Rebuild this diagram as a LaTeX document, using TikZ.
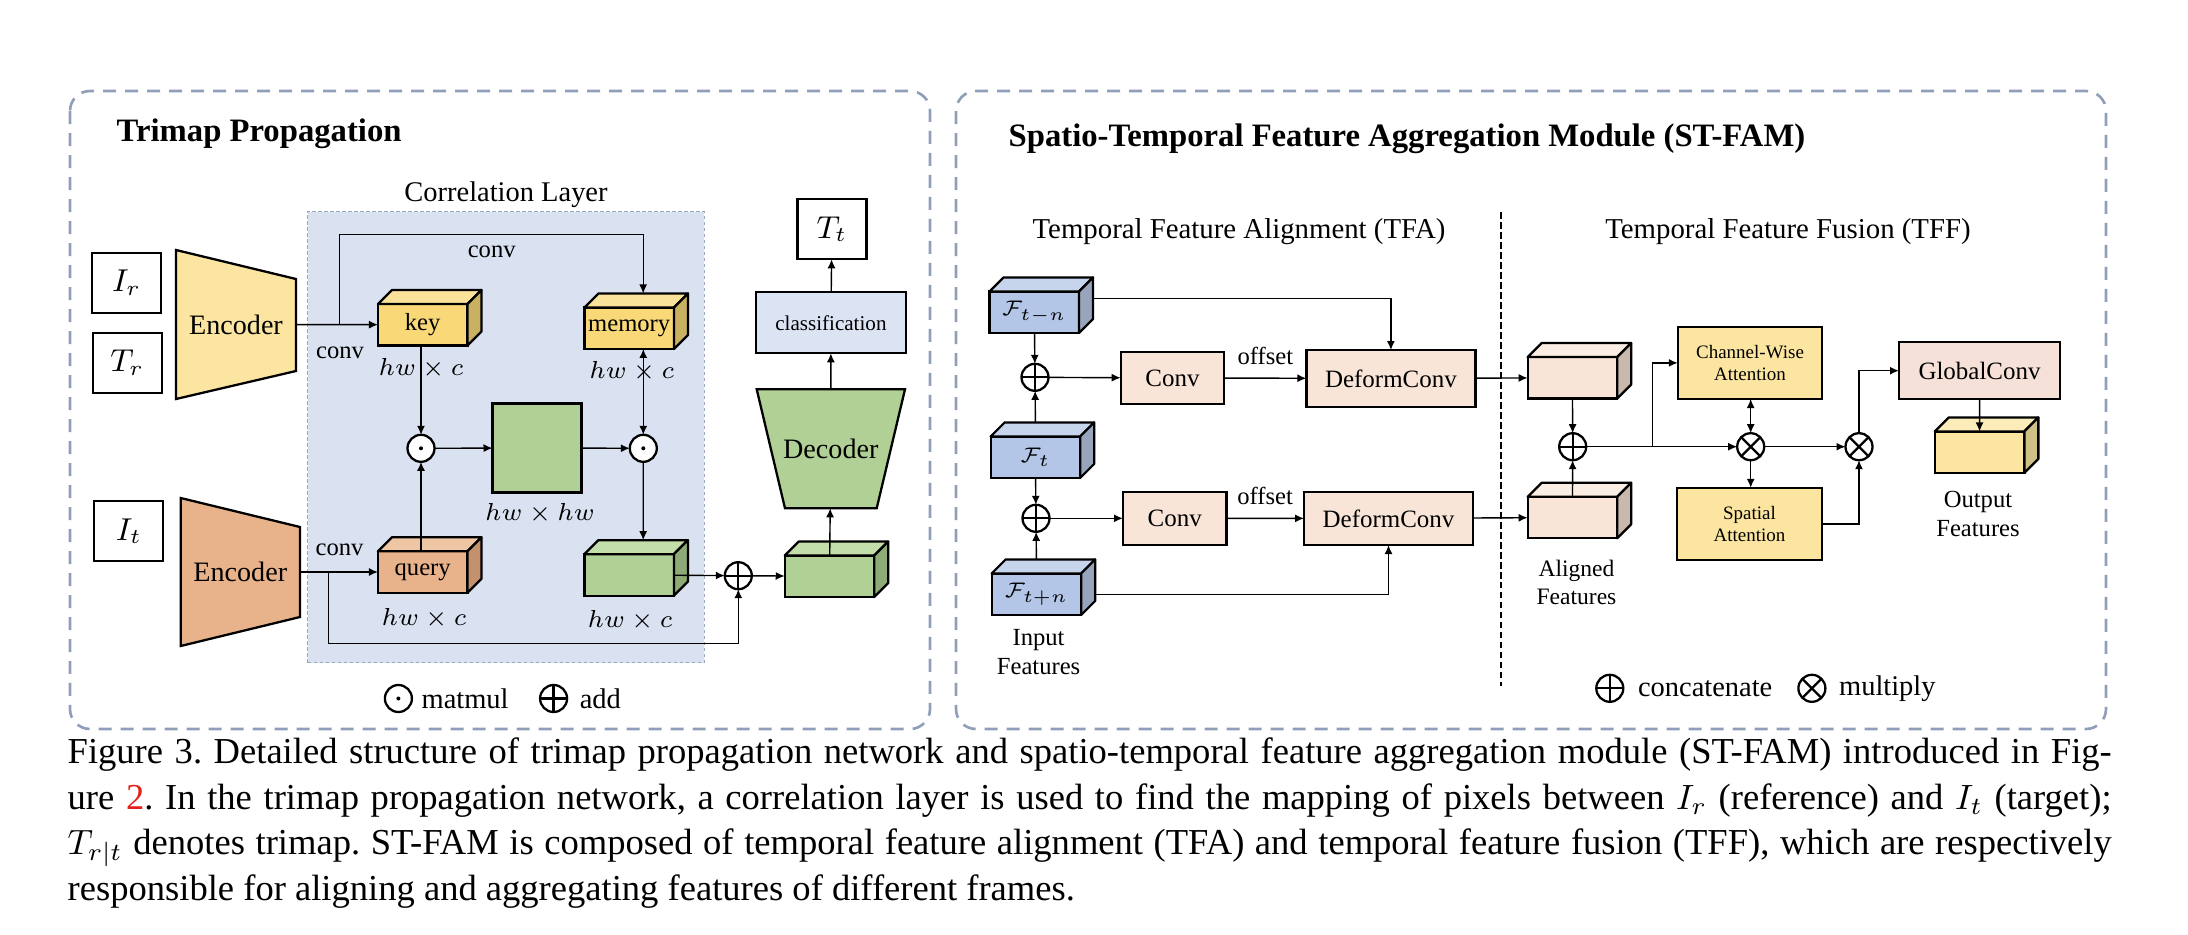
\documentclass[tikz,border=0pt]{standalone}
\usepackage{fontspec}
\setmainfont{Liberation Serif}
\usepackage{amsmath}
\usetikzlibrary{positioning,arrows.meta}

\definecolor{panelline}{HTML}{919EB9}
\definecolor{corrfill}{HTML}{DAE2F1}
\definecolor{corrline}{HTML}{9AA6BE}
\definecolor{encyellow}{HTML}{FBE5A1}
\definecolor{keyfront}{HTML}{F9D977}
\definecolor{keytop}{HTML}{FAE29A}
\definecolor{keyside}{HTML}{C9B162}
\definecolor{encorange}{HTML}{E8B38A}
\definecolor{qtop}{HTML}{EEC6A4}
\definecolor{qside}{HTML}{C3916E}
\definecolor{grfront}{HTML}{B1D095}
\definecolor{grtop}{HTML}{C3DDAB}
\definecolor{grside}{HTML}{8EAA77}
\definecolor{clsfill}{HTML}{DCE3F2}
\definecolor{featfront}{HTML}{B4C6E7}
\definecolor{feattop}{HTML}{C6D4EC}
\definecolor{featside}{HTML}{97A4BC}
\definecolor{peach}{HTML}{F8E5D8}
\definecolor{peachtop}{HTML}{FAEDE3}
\definecolor{peachside}{HTML}{C9B8AC}
\definecolor{attn}{HTML}{FBE5A1}
\definecolor{gcfill}{HTML}{F5E1D8}
\definecolor{outtop}{HTML}{FCECB9}
\definecolor{outside}{HTML}{CFC084}
\definecolor{linkred}{HTML}{E3201B}

\tikzset{>={Latex[length=0.9mm,width=0.8mm]}, % small filled arrow heads
x=0.1mm, y=-0.1mm, % one unit = one pixel of the figure, y runs down
box/.style={draw, line width=0.65pt, outer sep=0pt, inner sep=0pt}, % framed blocks
faceline/.style={draw=black, line width=0.65pt, line join=round}, % top and side of a cube
wbox/.style={box, fill=white, minimum width=6.9mm, minimum height=6mm, font=\fontsize{9}{10}\selectfont},
cube/.style={box, minimum width=8.95mm, minimum height=4.15mm, font=\fontsize{7}{8}\selectfont},
pbox/.style={box, fill=peach, font=\fontsize{7.1}{8}\selectfont},
abox/.style={box, fill=attn, minimum width=14.45mm, minimum height=7.23mm, align=center, font=\fontsize{5.4}{6.2}\selectfont},
trap/.style={draw, line width=0.65pt, line join=miter}, % encoder / decoder outline
shapetext/.style={inner sep=0pt, outer sep=0pt, font=\fontsize{8}{9}\selectfont},
op/.style={circle, draw, fill=white, line width=0.65pt, minimum size=2.7mm, inner sep=0pt, outer sep=0pt},
odot/.style={op, path picture={\fill[black] (path picture bounding box.center) circle (0.2mm);}},
oplus/.style={op, path picture={\draw[black, line width=0.65pt] (path picture bounding box.north) -- (path picture bounding box.south) (path picture bounding box.west) -- (path picture bounding box.east);}},
otimes/.style={op, path picture={\draw[black, line width=0.65pt] (path picture bounding box.north west) -- (path picture bounding box.south east) (path picture bounding box.north east) -- (path picture bounding box.south west);}},
txt/.style={inner sep=0pt, font=\fontsize{7}{8.5}\selectfont},
lgd/.style={inner sep=0pt, font=\fontsize{8.1}{9}\selectfont},
head/.style={inner sep=0pt, font=\fontsize{8.2}{10}\selectfont},
ttl/.style={inner sep=0pt, anchor=west, font=\bfseries\fontsize{9.3}{11}\selectfont},
conn/.style={->, line width=0.4pt}, % connectors
panel/.style={draw=panelline, line width=0.75pt, dash pattern=on 1.3mm off 0.9mm, rounded corners=2mm},
}

% top and side faces of a cube, drawn on its front node
\newcommand{\cubefaces}[3]{%
\filldraw[fill=#2, faceline] (#1.north west) -- ++(14,-14) -- ([shift={(14,-14)}]#1.north east) -- (#1.north east) -- cycle;
\filldraw[fill=#3, faceline] (#1.north east) -- ([shift={(14,-14)}]#1.north east) -- ([shift={(14,-14)}]#1.south east) -- (#1.south east) -- cycle;
}

\begin{document}
\begin{tikzpicture}
\useasboundingbox (0,0) rectangle (2188,934);

% panels
\draw[panel] (70,91) rectangle (930,729);
\draw[panel] (956,91) rectangle (2106,729);
\node[ttl] (tp) at (116,134) {Trimap Propagation};
\node[ttl] (stfam) at (1008,139) {Spatio-Temporal Feature Aggregation Module (ST-FAM)};

% ---------------- trimap propagation
\node[box, fill=corrfill, draw=corrline, line width=0.4pt, dash pattern=on 0.35mm off 0.25mm, minimum width=39.66mm, minimum height=45.1mm] (corr) at (506,437.2) {};
\node[txt, font=\fontsize{8.1}{9}\selectfont] (corrlbl) at (506,195) {Correlation Layer};

\node[wbox] (Ir) at (126.5,282.7) {$I_r$};
\node[wbox] (Tr) at (127.2,362.9) {$T_r$};
\node[wbox] (It) at (128.8,531.2) {$I_t$};

\filldraw[trap, fill=encyellow] (176,250) -- (296,279) -- (296,371) -- (176,399) -- cycle;
\node[shapetext, minimum width=12mm, minimum height=9mm] (encR) at (236,324.5) {Encoder};
\filldraw[trap, fill=encorange] (180.7,498) -- (300,527) -- (300,617) -- (180.7,646) -- cycle;
\node[shapetext, minimum width=11.93mm, minimum height=9mm] (encT) at (240.3,572) {Encoder};

\node[cube, fill=keyfront] (key) at (422.7,324.7) {key};
\cubefaces{key}{keytop}{keyside}
\node[cube, fill=keyfront] (mem) at (629.2,328.2) {memory};
\cubefaces{mem}{keytop}{keyside}
\node[cube, fill=encorange] (query) at (422.7,572) {query};
\cubefaces{query}{qtop}{qside}
\node[box, fill=grfront, minimum size=8.9mm] (sq) at (537,448) {};
\node[cube, fill=grfront] (val) at (629.2,574.9) {};
\cubefaces{val}{grtop}{grside}
\node[cube, fill=grfront] (feat) at (829.5,576.3) {};
\cubefaces{feat}{grtop}{grside}

\node[odot] (mm1) at (421,448.3) {};
\node[odot] (mm2) at (643.3,448.3) {};
\node[oplus] (add) at (738.3,575.7) {};

\filldraw[trap, fill=grfront] (756.7,389.3) -- (905,389.3) -- (876.7,508.3) -- (785,508.3) -- cycle;
\node[shapetext, minimum width=9mm, minimum height=11.9mm] (dec) at (830.8,448.8) {Decoder};
\node[box, fill=clsfill, minimum width=14.97mm, minimum height=6.1mm, font=\fontsize{6}{7}\selectfont] (cls) at (830.9,322.8) {classification};
\node[wbox] (Tt) at (831.9,229.3) {$T_t$};

\node[txt] (c1lbl) at (340,353) {conv};
\node[txt] (c2lbl) at (491.7,252) {conv};
\node[txt] (c3lbl) at (339.6,550) {conv};
\node[txt] (s1) at (421,368) {$hw\times c$};
\node[txt] (s2) at (631.7,371) {$hw\times c$};
\node[txt] (s3) at (540,513) {$hw\times hw$};
\node[txt] (s4) at (424,618) {$hw\times c$};
\node[txt] (s5) at (630,620) {$hw\times c$};

\node[odot] (lgdot) at (398.4,698.5) {};
\node[lgd, right=0.9mm of lgdot] (lgdottxt) {matmul};
\node[oplus] (lgadd) at (553.6,698.5) {};
\node[lgd, right=1.2mm of lgadd] (lgaddtxt) {add};

\coordinate (kb) at (339.3,324.5);
\coordinate (qb) at (328.3,572);

\draw[conn]
(encR) edge (key)
(encT) edge (query)
(mm1) edge (sq)
(sq) edge (mm2)
(val) edge (add)
(add) edge (feat)
(feat) edge (dec)
(dec) edge (cls)
(cls) edge (Tt)
(key.south -| mm1) edge (mm1)
(query.north -| mm1) edge (mm1)
(mem.south -| mm2) edge (mm2)
(mm2) edge ([shift={(14,-14)}]val.north);
\draw[conn] (kb) -- ++(0,-90.2) -| ([shift={(14,-14)}]mem.north);
\draw[conn] (qb) -- ++(0,71.3) -| (add);

% ---------------- ST-FAM
\node[head] (tfa) at (1239,232) {Temporal Feature Alignment (TFA)};
\node[head] (tff) at (1788,232) {Temporal Feature Fusion (TFF)};
\draw[line width=0.45pt, dash pattern=on 0.65mm off 0.35mm] (1501,212) -- (1501,686);

\node[cube, fill=featfront, font=\fontsize{6.3}{7}\selectfont] (Fa) at (1034.3,312.2) {$\mathcal{F}_{t-n}$};
\cubefaces{Fa}{feattop}{featside}
\node[cube, fill=featfront, font=\fontsize{6.3}{7}\selectfont] (Fb) at (1035.4,457.2) {$\mathcal{F}_{t}$};
\cubefaces{Fb}{feattop}{featside}
\node[cube, fill=featfront, font=\fontsize{6.3}{7}\selectfont] (Fc) at (1036.4,594.2) {$\mathcal{F}_{t+n}$};
\cubefaces{Fc}{feattop}{featside}
\node[txt, align=center, font=\fontsize{7}{8.5}\selectfont] (inlbl) at (1038.6,652) {Input\\Features};

\node[oplus] (cat1) at (1035,377.3) {};
\node[oplus] (cat2) at (1036,518.3) {};
\node[pbox, minimum width=10.36mm, minimum height=5.26mm] (cv1) at (1172.5,378) {Conv};
\node[pbox, minimum width=10.34mm, minimum height=5.33mm] (cv2) at (1174.7,518.3) {Conv};
\node[pbox, minimum width=16.9mm, minimum height=5.67mm] (dc1) at (1390.9,378.4) {DeformConv};
\node[pbox, minimum width=16.9mm, minimum height=5.33mm] (dc2) at (1388.5,518.4) {DeformConv};

\node[cube, fill=peach] (al1) at (1572.4,377.8) {};
\cubefaces{al1}{peachtop}{peachside}
\node[cube, fill=peach] (al2) at (1572.4,517.5) {};
\cubefaces{al2}{peachtop}{peachside}
\node[txt, align=center, font=\fontsize{6.7}{8}\selectfont] (allbl) at (1576.5,582) {Aligned\\Features};

\node[oplus] (cat3) at (1572.7,446.7) {};
\node[otimes] (m1) at (1750.7,446.7) {};
\node[otimes] (m2) at (1859,446.7) {};
\node[abox] (cw) at (1750,362.9) {Channel-Wise\\Attention};
\node[abox] (sa) at (1749.5,523.9) {Spatial\\Attention};
\node[box, fill=gcfill, minimum width=16.1mm, minimum height=5.67mm, font=\fontsize{7.1}{8}\selectfont] (gc) at (1979.5,370.7) {GlobalConv};
\node[cube, fill=attn] (out) at (1979.6,452.2) {};
\cubefaces{out}{outtop}{outside}
\node[txt, align=center] (outlbl) at (1978,514) {Output\\Features};

\node[oplus] (lgcat) at (1609.8,688.3) {};
\node[lgd, right=1.4mm of lgcat] (lgcattxt) {concatenate};
\node[otimes] (lgmul) at (1811.9,688.3) {};
\node[lgd, right=1.3mm of lgmul] (lgmultxt) {multiply};

\coordinate (br) at (1652.3,446.7);

\draw[conn]
(Fa) edge (cat1)
(Fb) edge (cat2)
([shift={(0,-14)}]Fb.north) edge (cat1)
([shift={(0,-14)}]Fc.north) edge (cat2)
(cat1) edge (cv1)
(cat2) edge (cv2)
(cv1) edge node[txt, above=1.3mm] {offset} (dc1)
(cv2) edge node[txt, above=1.3mm] {offset} (dc2)
(dc1) edge (al1)
(dc2) edge (al2)
(al1) edge (cat3)
(al2) edge (cat3)
(cat3) edge (m1)
(cw.south -| m1) edge (m1)
(m1) edge (m1 |- sa.north)
(m1) edge (m2)
(gc) edge (out);
\draw[conn] ([shift={(14,7)}]Fa.north east) -| (dc1);
\draw[conn] ([shift={(14,0)}]Fc.east) -| (dc2);
\draw[conn] (br) |- (cw.west);
\draw[conn] (sa.east) -| (m2);
\draw[conn] (m2) |- (gc.west);

% ---------------- caption
\node[anchor=north west, inner sep=0pt, align=left, font=\fontsize{10.4}{12.97}\selectfont\frenchspacing] (cap) at (67,737) {%
\makebox[204.4mm][s]{Figure 3. Detailed structure of trimap propagation network and spatio-temporal feature aggregation module (ST-FAM) introduced in Fig-}\\
\makebox[204.4mm][s]{ure {\color{linkred}2}. In the trimap propagation network, a correlation layer is used to find the mapping of pixels between $I_r$ (reference) and $I_t$ (target);}\\
\makebox[204.4mm][s]{$T_{r|t}$ denotes trimap. ST-FAM is composed of temporal feature alignment (TFA) and temporal feature fusion (TFF), which are respectively}\\
responsible for aligning and aggregating features of different frames.};
\end{tikzpicture}
\end{document}
